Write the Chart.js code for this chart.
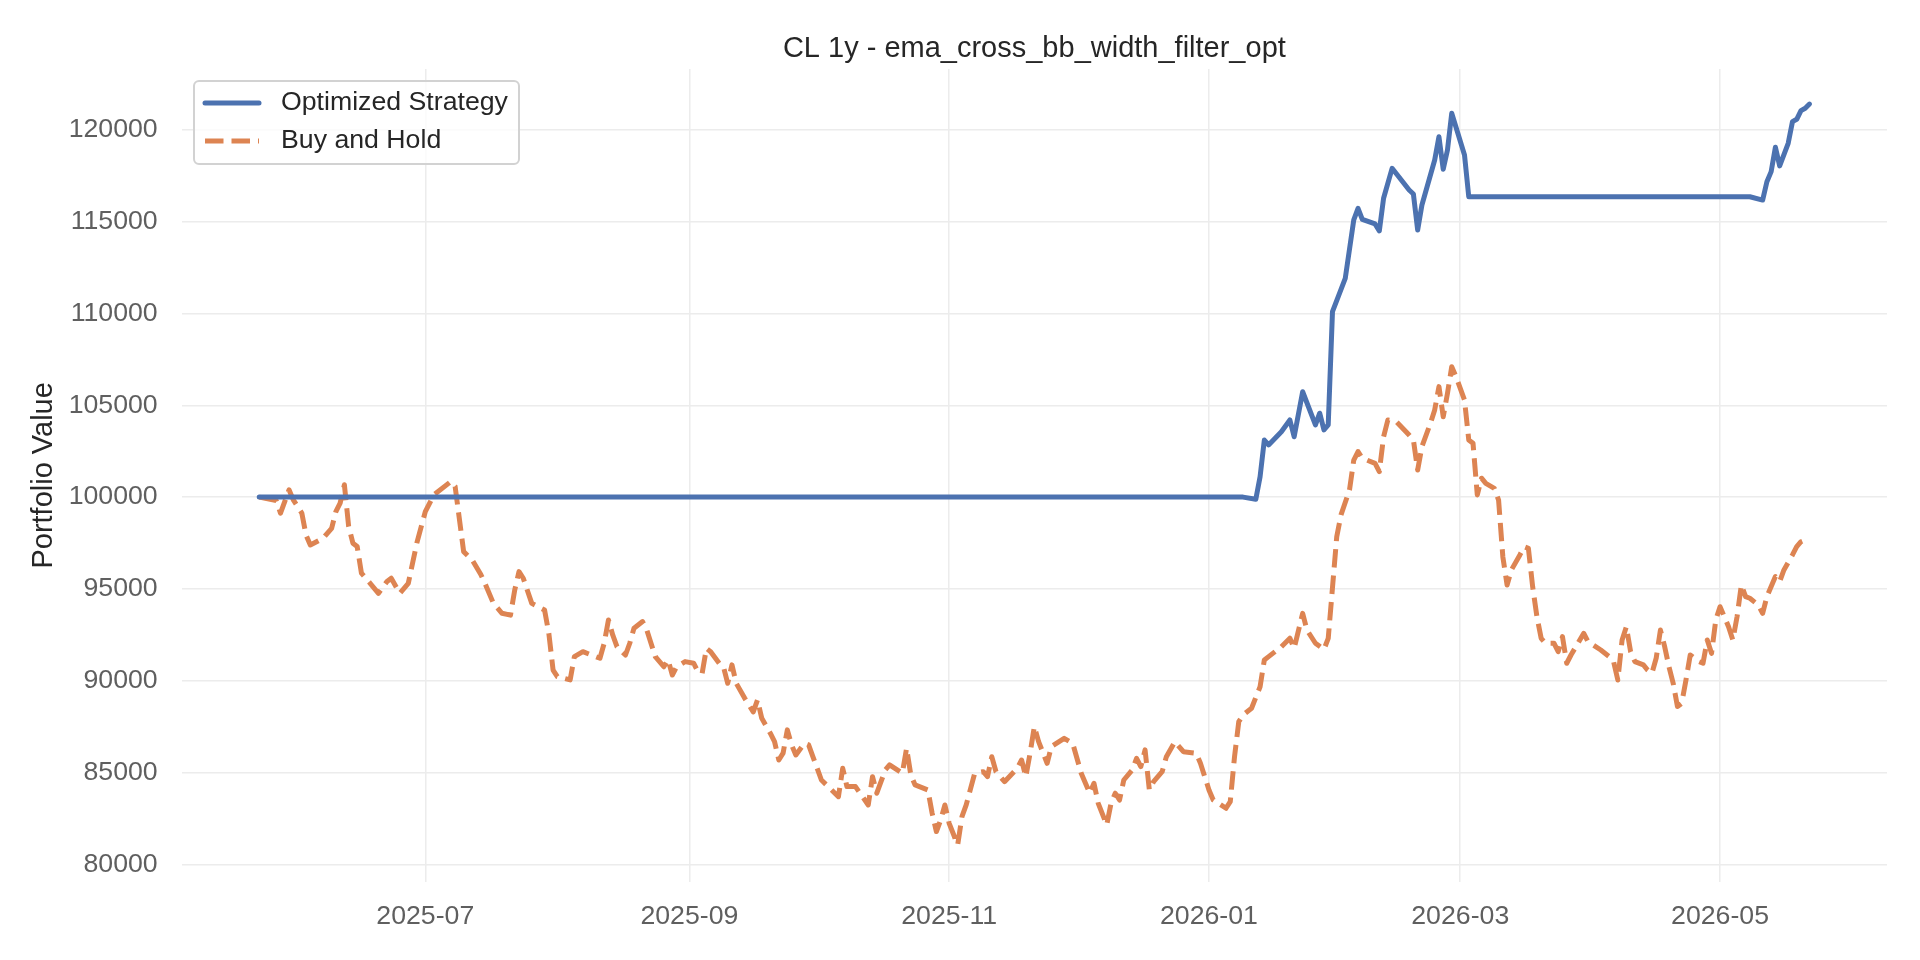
<!DOCTYPE html>
<html>
<head>
<meta charset="utf-8">
<title>CL 1y - ema_cross_bb_width_filter_opt</title>
<script src="https://cdn.jsdelivr.net/npm/chart.js@4.4.1/dist/chart.umd.min.js"></script>
<style>
  html, body { margin: 0; padding: 0; background: #fff; }
  #wrap { width: 1920px; height: 960px; }
</style>
</head>
<body>
<div id="wrap"><canvas id="myChart" width="1920" height="960"></canvas></div>
<script>
// x values are days since the first bar of the backtest
const startDate = '2025-05-23';

// Buy and Hold
const holdDays = [0, 4, 5, 7, 8, 10, 11, 12, 15, 17, 18, 19, 20, 21, 22, 23, 24, 26, 28, 30,
  31, 33, 35, 37, 39, 41, 45, 46, 48, 50, 52, 53, 55, 57, 59, 60, 61, 62, 64, 67,
  68, 69, 70, 73, 74, 76, 78, 80, 81, 82, 83, 84, 86, 87, 88, 90, 91, 93, 95, 96,
  97, 98, 100, 102, 103, 104, 105, 106, 108, 109, 110, 111, 112, 114, 116, 117, 118, 120, 121, 122,
  123, 124, 125, 126, 128, 129, 130, 132, 134, 136, 137, 138, 140, 143, 144, 145, 147, 148, 151, 152,
  153, 154, 157, 158, 159, 160, 161, 162, 164, 165, 166, 168, 170, 171, 172, 173, 175, 178, 179, 180,
  181, 182, 183, 185, 186, 189, 191, 193, 195, 196, 197, 199, 200, 201, 202, 203, 205, 206, 207, 208,
  209, 210, 212, 213, 215, 217, 220, 221, 223, 224, 227, 228, 229, 230, 231, 233, 235, 236, 237, 240,
  242, 243, 245, 246, 248, 250, 251, 253, 254, 256, 257, 258, 259, 262, 263, 264, 265, 267, 270, 271,
  272, 273, 275, 276, 277, 278, 279, 280, 281, 283, 284, 285, 286, 287, 288, 290, 291, 292, 293, 294,
  296, 297, 298, 299, 300, 301, 302, 304, 305, 306, 307, 308, 311, 312, 315, 317, 318, 319, 320, 321,
  322, 323, 325, 326, 327, 328, 329, 330, 331, 332, 333, 334, 335, 336, 338, 339, 340, 341, 342, 343,
  345, 346, 347, 348, 349, 350, 352, 353, 354, 356, 357, 358, 360, 361, 362, 364];
const holdValues = [100000, 99810, 99130, 100400, 99850, 99130, 97930, 97390, 97760, 98300, 99210, 99670, 100670, 98400, 97490, 97310, 95860, 95320, 94760, 95400,
  95580, 94760, 95300, 97490, 99210, 100120, 100850, 100580, 97030, 96580, 95800, 95300, 94210, 93670, 93570, 94950, 95940, 95580, 94210, 93850,
  92580, 90580, 90220, 90040, 91310, 91580, 91400, 91220, 92040, 93310, 92490, 91850, 91400, 92040, 92860, 93220, 92760, 91310, 90760, 91130,
  90310, 90760, 91040, 90950, 90490, 90400, 91760, 91580, 90950, 90760, 89860, 90860, 89860, 89040, 88300, 88950, 87950, 87140, 86680, 85680,
  86050, 87320, 86500, 85950, 86590, 86500, 85860, 84590, 84140, 83680, 85230, 84230, 84230, 83230, 84770, 83870, 85140, 85410, 84960, 86320,
  84860, 84320, 84050, 82780, 81780, 82410, 83230, 82230, 81050, 82590, 83230, 84960, 85040, 84770, 85860, 85040, 84500, 85230, 85680, 84770,
  86050, 87500, 86680, 85500, 86410, 86860, 86590, 84960, 83870, 84410, 83320, 82140, 83320, 83870, 83500, 84590, 85140, 85770, 85320, 86230,
  84050, 84500, 85040, 85860, 86680, 86130, 86050, 85500, 84050, 83500, 83050, 83410, 85860, 87770, 88130, 88500, 89670, 91130, 91310, 91850,
  92310, 91760, 93670, 92760, 92040, 91700, 92300, 97840, 99030, 100390, 102020, 102480, 102120, 101840, 101390, 103290, 104200, 104110, 103380, 103110,
  101480, 102750, 104020, 104750, 106020, 104380, 105650, 107100, 106560, 105290, 103110, 102930, 100120, 101030, 100750, 100480, 99840, 96750, 95210, 96030,
  96850, 97300, 97210, 95120, 93490, 92310, 92040, 92040, 91580, 92400, 90950, 91400, 92580, 92130, 91670, 91310, 91040, 90040, 92220, 92940,
  91580, 91040, 90860, 90580, 90400, 91220, 92760, 91850, 90760, 89860, 88590, 88770, 90040, 91400, 91040, 90950, 92220, 91490, 93310, 94030,
  92940, 92220, 93490, 95210, 94580, 94490, 94120, 93670, 94580, 95670, 95400, 96030, 96850, 97300, 97570, 97760];

// Optimized Strategy
const stratDays = [0, 231, 234, 235, 236, 237, 240, 242, 243, 245, 248, 249, 250, 251, 252, 255, 257, 258, 259, 262,
  263, 264, 266, 270, 271, 272, 273, 276, 277, 278, 279, 280, 283, 284, 350, 353, 354, 355, 356, 357,
  359, 360, 361, 362, 363, 364];
const stratValues = [100000, 100000, 99880, 101110, 103110, 102840, 103560, 104200, 103290, 105740, 103930, 104570, 103660, 103930, 110100, 111920, 115100, 115730, 115130, 114880,
  114500, 116280, 117910, 116730, 116510, 114550, 115910, 118360, 119630, 117860, 118910, 120910, 118630, 116360, 116360, 116180, 117180, 117730, 119060, 118040,
  119270, 120450, 120580, 121050, 121180, 121410];

// axis ticks
const xTickDates = ['2025-07-01', '2025-09-01', '2025-11-01', '2026-01-01', '2026-03-01', '2026-05-01'];
const xTickLabels = ['2025-07', '2025-09', '2025-11', '2026-01', '2026-03', '2026-05'];
const yTicks = [80000, 85000, 90000, 95000, 100000, 105000, 110000, 115000, 120000];

const DAY = 86400000;
const t0 = Date.parse(startDate);
const xTickDays = xTickDates.map(d => (Date.parse(d) - t0) / DAY);

const FONT = "'Liberation Sans', Arial, sans-serif";
const BLUE = '#4C72B0';
const ORANGE = '#DD8452';
const GRID = '#ececec';

// matplotlib-style legend box in the upper left of the plot
const legendBox = {
  id: 'legendBox',
  afterDraw(chart) {
    const ctx = chart.ctx;
    ctx.save();
    const x = 194, y = 81, w = 325, h = 83, r = 5;
    ctx.beginPath();
    ctx.moveTo(x + r, y);
    ctx.arcTo(x + w, y, x + w, y + h, r);
    ctx.arcTo(x + w, y + h, x, y + h, r);
    ctx.arcTo(x, y + h, x, y, r);
    ctx.arcTo(x, y, x + w, y, r);
    ctx.closePath();
    ctx.fillStyle = 'rgba(255,255,255,0.8)';
    ctx.fill();
    ctx.strokeStyle = '#d2d2d2';
    ctx.lineWidth = 2;
    ctx.stroke();

    const rows = [
      { label: 'Optimized Strategy', color: BLUE, dash: [], cap: 'round', y: 103 },
      { label: 'Buy and Hold', color: ORANGE, dash: [18.5, 8], cap: 'butt', y: 141 }
    ];
    rows.forEach(row => {
      ctx.beginPath();
      ctx.setLineDash(row.dash);
      ctx.lineCap = row.cap;
      ctx.lineWidth = 5;
      ctx.strokeStyle = row.color;
      ctx.moveTo(205, row.y);
      ctx.lineTo(259, row.y);
      ctx.stroke();
      ctx.setLineDash([]);
      ctx.fillStyle = '#262626';
      ctx.font = '26.7px ' + FONT;
      ctx.textBaseline = 'middle';
      ctx.textAlign = 'left';
      ctx.fillText(row.label, 281, row.y);
    });
    ctx.restore();
  }
};

const ctx = document.getElementById('myChart').getContext('2d');
const chart = new Chart(ctx, {
  type: 'line',
  data: {
    datasets: [{
      label: 'Optimized Strategy',
      data: stratDays.map((d, i) => ({ x: d, y: stratValues[i] })),
      borderColor: BLUE,
      borderWidth: 5,
      borderCapStyle: 'round',
      borderJoinStyle: 'round',
      pointRadius: 0,
      tension: 0
    }, {
      label: 'Buy and Hold',
      data: holdDays.map((d, i) => ({ x: d, y: holdValues[i] })),
      borderColor: ORANGE,
      borderWidth: 5,
      borderDash: [18.5, 8],
      borderCapStyle: 'butt',
      borderJoinStyle: 'round',
      pointRadius: 0,
      tension: 0
    }]
  },
  options: {
    responsive: false,
    devicePixelRatio: 1,
    animation: false,
    layout: { padding: { left: 0, right: 33, top: 0, bottom: 0 } },
    plugins: {
      legend: { display: false },
      tooltip: { enabled: false },
      title: {
        display: true,
        fullSize: false,
        text: 'CL 1y - ema_cross_bb_width_filter_opt',
        color: '#262626',
        font: { family: FONT, size: 29, weight: 'normal' },
        padding: { top: 31.6, bottom: 2.6 }
      }
    },
    scales: {
      x: {
        type: 'linear',
        min: -18.2,
        max: 382.2,
        border: { display: false },
        grid: { color: GRID, lineWidth: 1.5, drawTicks: false },
        afterBuildTicks: scale => { scale.ticks = xTickDays.map(v => ({ value: v })); },
        afterFit: scale => { scale.height = 78.3; },
        ticks: {
          autoSkip: false,
          maxRotation: 0,
          padding: 19,
          color: '#5f5f5f',
          font: { family: FONT, size: 26.7 },
          callback: value => xTickLabels[xTickDays.indexOf(value)]
        }
      },
      y: {
        type: 'linear',
        min: 79050,
        max: 123320,
        border: { display: false },
        grid: { color: GRID, lineWidth: 1.5, drawTicks: false },
        afterBuildTicks: scale => { scale.ticks = yTicks.map(v => ({ value: v })); },
        afterFit: scale => { scale.width = 181.7; },
        ticks: {
          padding: 24,
          color: '#5f5f5f',
          font: { family: FONT, size: 26.7 },
          callback: value => String(value)
        },
        title: {
          display: true,
          text: 'Portfolio Value',
          color: '#262626',
          font: { family: FONT, size: 29 },
          padding: { top: 27, bottom: 0 }
        }
      }
    }
  },
  plugins: [legendBox]
});
</script>
</body>
</html>
